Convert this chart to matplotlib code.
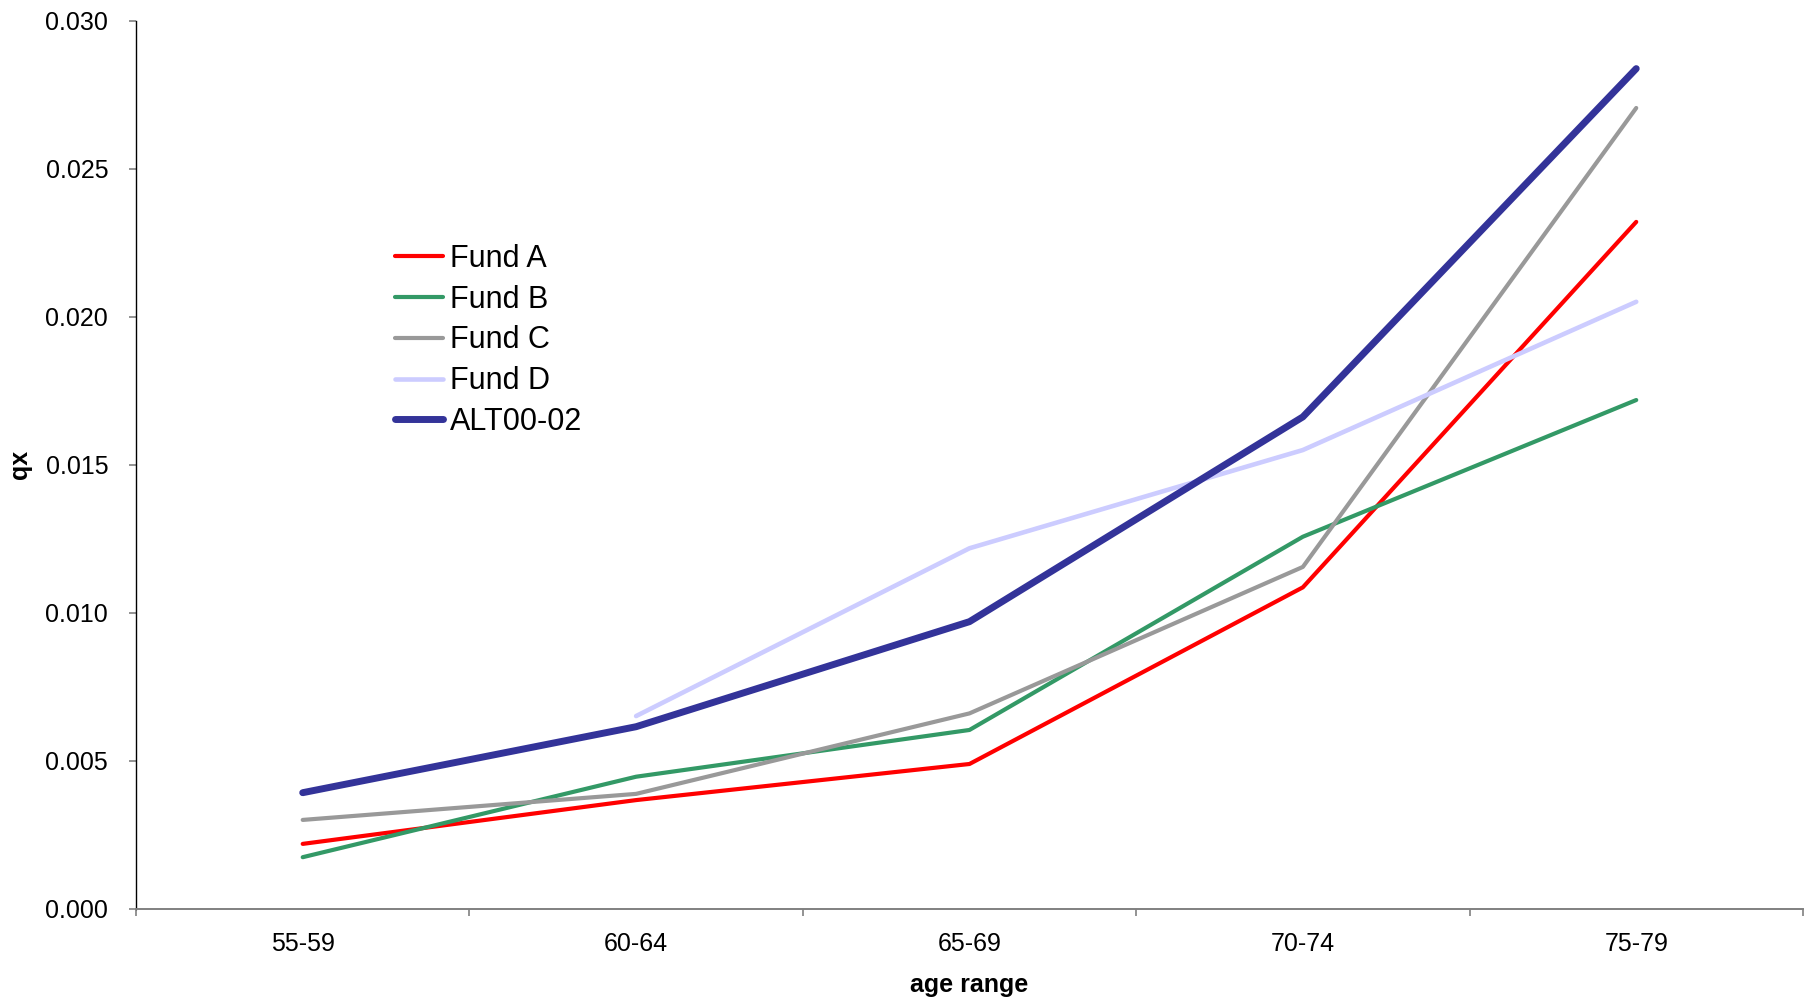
import matplotlib
matplotlib.use("Agg")
import matplotlib.pyplot as plt
import numpy as np

# data
AGE_RANGES = ["55-59", "60-64", "65-69", "70-74", "75-79"]
FUND_A   = [0.00219, 0.00367, 0.00489, 0.01086, 0.02321]
FUND_B   = [0.00174, 0.00446, 0.00604, 0.01257, 0.01719]
FUND_C   = [0.00300, 0.00388, 0.00660, 0.01155, 0.02706]
FUND_D   = [np.nan, 0.00651, 0.01218, 0.01550, 0.02051]
ALT00_02 = [0.00392, 0.00615, 0.00970, 0.01662, 0.02839]

SERIES = [
    ("Fund A", FUND_A, "#FF0000", 3.0),
    ("Fund B", FUND_B, "#339966", 3.0),
    ("Fund C", FUND_C, "#999999", 3.0),
    ("Fund D", FUND_D, "#CCCCFF", 3.3),
    ("ALT00-02", ALT00_02, "#333399", 5.0),
]

plt.rcParams["font.family"] = ["Liberation Sans", "DejaVu Sans"]

fig = plt.figure(figsize=(18.16, 9.99), dpi=100)
ax = fig.add_axes([0.0749, 0.0904, 0.9179, 0.8886])

x = np.arange(len(AGE_RANGES)) + 0.5
for name, vals, col, lw in SERIES:
    ax.plot(x, vals, color=col, lw=lw, label=name,
            solid_capstyle="round", solid_joinstyle="round")

ax.set_xlim(0, len(AGE_RANGES))
ax.set_ylim(0, 0.030)
yt = np.arange(0, 0.0301, 0.005)
ax.set_yticks(yt)
ax.set_yticklabels([f"{v:.3f}" for v in yt])

# category boundaries get tick marks, labels sit in between
ax.set_xticks(np.arange(0, len(AGE_RANGES) + 1))
ax.set_xticklabels([])
ax.set_xticks(x, minor=True)
ax.set_xticklabels(AGE_RANGES, minor=True)

for s in ("top", "right"):
    ax.spines[s].set_visible(False)
ax.spines["left"].set_color("black")
ax.spines["bottom"].set_color("#808080")
ax.spines["left"].set_linewidth(1.0)
ax.spines["bottom"].set_linewidth(1.4)

ax.tick_params(axis="y", which="major", direction="out", length=5, width=1.2,
               color="#808080", pad=15, labelsize=18)
ax.tick_params(axis="x", which="major", direction="out", length=5, width=1.2,
               color="#808080")
ax.tick_params(axis="x", which="minor", length=0, pad=17, labelsize=18)

ax.set_xlabel("age range", fontsize=18, fontweight="bold")
ax.set_ylabel("qx", fontsize=18, fontweight="bold")
ax.xaxis.set_label_coords(0.5, -0.073)
ax.yaxis.set_label_coords(-0.0622, 0.5)

ax.legend(loc="upper left", bbox_to_anchor=(0.2176, 0.756),
          bbox_transform=fig.transFigure, frameon=False, fontsize=22,
          handlelength=1.55, handletextpad=0.25, labelspacing=0.355,
          borderpad=0, borderaxespad=0)

fig.savefig("out.png", dpi=100)
